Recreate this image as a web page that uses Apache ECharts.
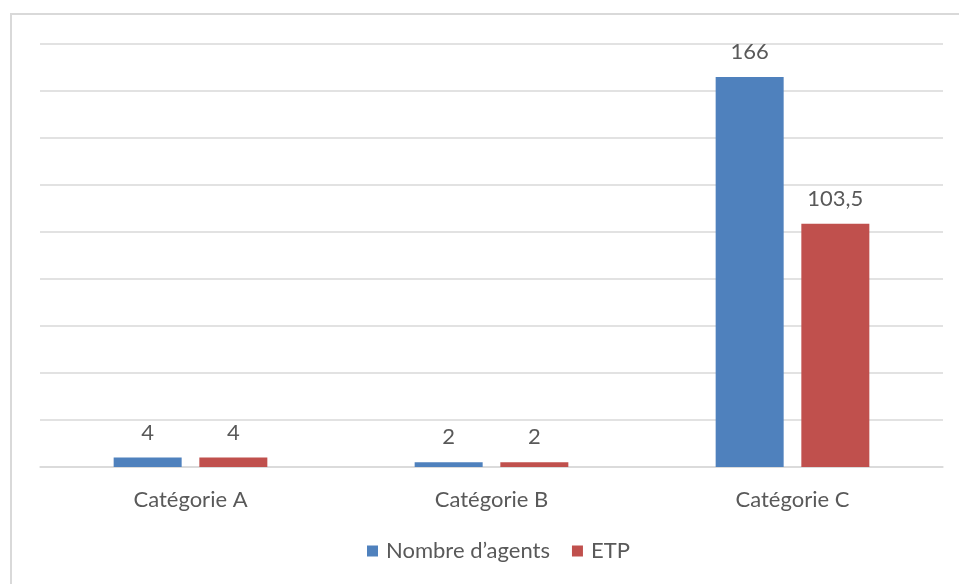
<!DOCTYPE html>
<html>
<head>
<meta charset="utf-8">
<script src="https://cdn.jsdelivr.net/npm/echarts@6/dist/echarts.min.js"></script>
<style>
  html, body { margin: 0; padding: 0; background: #ffffff; }
  #chart { width: 959px; height: 584px; }
</style>
</head>
<body>
<div id="chart"></div>
<script>
// Effectifs par catégorie
const categories = ['Catégorie A', 'Catégorie B', 'Catégorie C'];
const agents = [4, 2, 166];
const etp = [4, 2, 103.5];
const seriesNames = ['Nombre d\u2019agents', 'ETP'];

const FONT = 'Lato, "Open Sans", sans-serif';
const TEXT = '#595959';
const GRID = '#d9d9d9';

const frMark = v => String(v).replace('.', ',');

const chart = echarts.init(document.getElementById('chart'), null, { renderer: 'canvas' });

const labelStyle = {
  show: true,
  position: 'top',
  distance: 14,
  color: TEXT,
  fontFamily: FONT,
  fontSize: 22,
  formatter: p => frMark(p.value)
};

chart.setOption({
  animation: false,
  backgroundColor: '#ffffff',
  graphic: [{
    type: 'rect',
    shape: { x: 11, y: 14, width: 960, height: 600 },
    style: { fill: 'none', stroke: GRID, lineWidth: 2 },
    silent: true,
    z: -1
  }],
  legend: {
    bottom: 17,
    left: 362,
    itemWidth: 11,
    itemHeight: 11,
    itemGap: 22,
    icon: 'rect',
    textStyle: { color: TEXT, fontFamily: FONT, fontSize: 22, padding: [0, 0, 0, 3] },
    data: seriesNames
  },
  grid: { left: 40, right: 16, top: 44, bottom: 117, containLabel: false },
  xAxis: {
    type: 'category',
    data: categories,
    axisLine: { show: true, lineStyle: { color: GRID, width: 1.5 } },
    axisTick: { show: false },
    axisLabel: { color: TEXT, fontFamily: FONT, fontSize: 22, margin: 22 }
  },
  yAxis: {
    type: 'value',
    min: 0,
    max: 180,
    interval: 20,
    axisLine: { show: false },
    axisTick: { show: false },
    axisLabel: { show: false },
    splitLine: { lineStyle: { color: GRID, width: 1.5 } }
  },
  series: [
    {
      name: seriesNames[0],
      type: 'bar',
      data: agents,
      barWidth: 68,
      barGap: '26%',
      itemStyle: { color: '#4F81BD' },
      label: labelStyle
    },
    {
      name: seriesNames[1],
      type: 'bar',
      data: etp,
      barWidth: 68,
      barGap: '26%',
      itemStyle: { color: '#C0504D' },
      label: labelStyle
    }
  ]
});
</script>
</body>
</html>
